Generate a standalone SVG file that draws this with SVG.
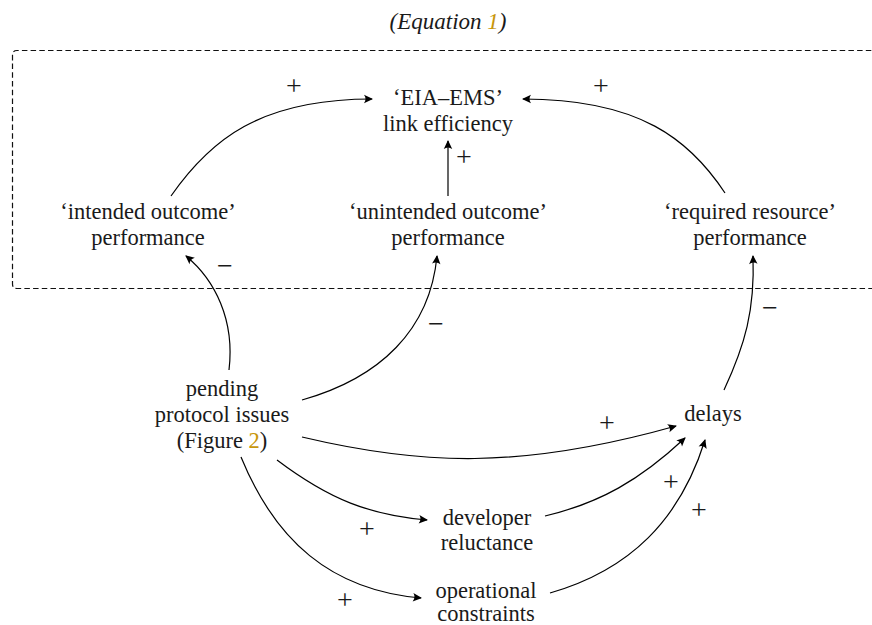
<svg xmlns="http://www.w3.org/2000/svg" width="872" height="625" viewBox="0 0 872 625">
<defs>
<marker id="ah" markerUnits="userSpaceOnUse" viewBox="-10 -6 12 12" refX="0" refY="0" markerWidth="12" markerHeight="12" orient="auto">
<path d="M1,0 L-8,-4.2 Q-5,0 -8,4.2 Z" fill="#000"/>
</marker>
</defs>
<style>
text{font-family:'Liberation Serif','DejaVu Serif',serif;font-size:22.5px;fill:#1a1a1a;text-anchor:middle}
.t{font-style:italic;font-size:23px}
.ref{fill:#c8960c}
.s{font-size:28px}
.c{fill:none;stroke:#000;stroke-width:1.2;marker-end:url(#ah)}
.box{fill:none;stroke:#111;stroke-width:1.2;stroke-dasharray:5.5,3.2}
</style>
<rect width="872" height="625" fill="#fff"/>
<text class="t" x="448" y="29">(Equation <tspan class="ref">1</tspan>)</text>
<path class="box" d="M880,50.5 H17 Q12.5,50.5 12.5,55 V284 Q12.5,288.5 17,288.5 H880"/>
<g id="connectors">
<path class="c" d="M171,196 C210,140 260,99 372,99"/>
<path class="c" d="M725,193 C690,140 640,99 523,99"/>
<path class="c" d="M448,196 L448,141"/>
<path class="c" d="M229,370 C235,320 215,280 186,256"/>
<path class="c" d="M302,400 C380,378 430,330 437,256"/>
<path class="c" d="M724,390 C745,345 755,310 753,256"/>
<path class="c" d="M302,437 C420,465 520,470 676,426"/>
<path class="c" d="M277,460 C330,500 370,515 427,520"/>
<path class="c" d="M241,457 C275,540 330,590 421,598"/>
<path class="c" d="M545,516 C600,503 640,480 685,438"/>
<path class="c" d="M550,593 C630,570 680,520 705,440"/>
<text class="s" x="294" y="95">+</text>
<text class="s" x="601" y="95">+</text>
<text class="s" x="464" y="166">+</text>
<text class="s" x="225" y="275">−</text>
<text class="s" x="436" y="333">−</text>
<text class="s" x="770" y="317">−</text>
<text class="s" x="607" y="432">+</text>
<text class="s" x="367" y="538">+</text>
<text class="s" x="345" y="609">+</text>
<text class="s" x="671" y="491">+</text>
<text class="s" x="699" y="519">+</text>
</g>
<g id="eia"><text x="448" y="105">‘EIA–EMS’</text><text x="448" y="131">link efficiency</text></g>
<g id="intended"><text x="148" y="219">‘intended outcome’</text><text x="148" y="245">performance</text></g>
<g id="unintended"><text x="448" y="219">‘unintended outcome’</text><text x="448" y="245">performance</text></g>
<g id="required"><text x="750" y="219">‘required resource’</text><text x="750" y="245">performance</text></g>
<g id="pending"><text x="222" y="396">pending</text><text x="222" y="422">protocol issues</text><text x="222" y="448">(Figure <tspan class="ref">2</tspan>)</text></g>
<g id="delays"><text x="713" y="421">delays</text></g>
<g id="developer"><text x="487" y="525">developer</text><text x="487" y="550">reluctance</text></g>
<g id="operational"><text x="486" y="598">operational</text><text x="486" y="621">constraints</text></g>
</svg>
